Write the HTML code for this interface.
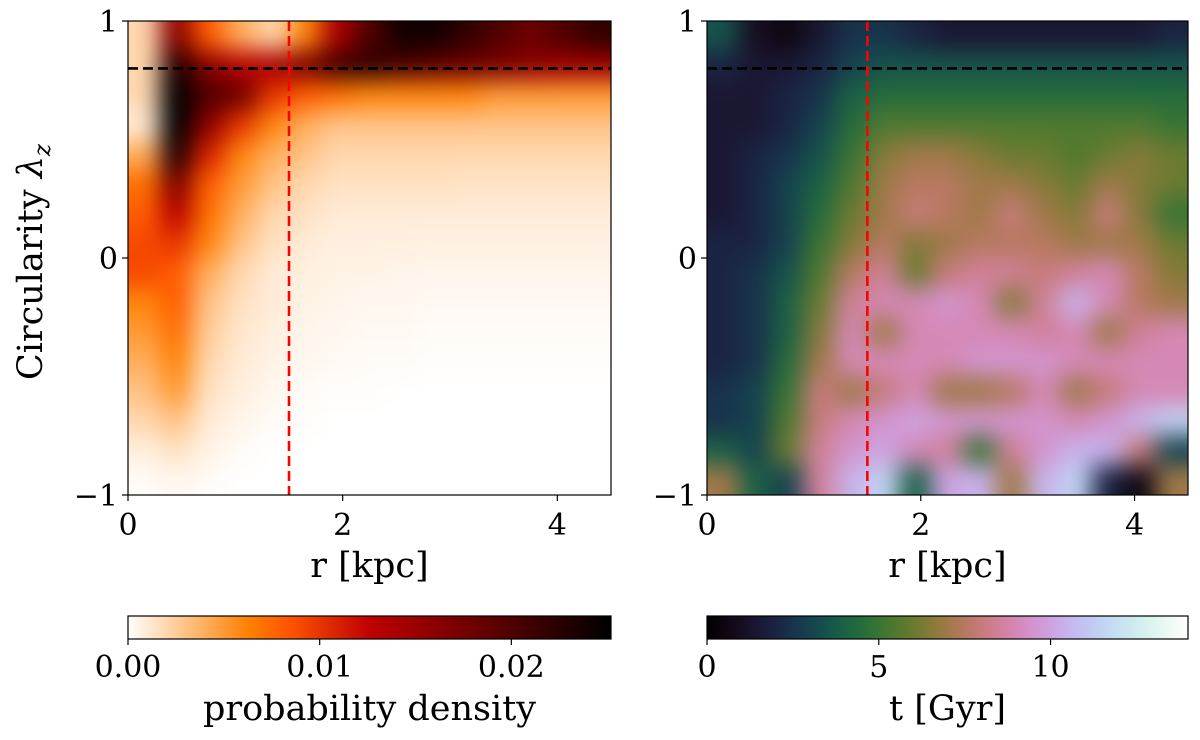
<!DOCTYPE html>
<html><head><meta charset="utf-8"><style>
body{margin:0;background:#fff;}
svg text{font-family:"DejaVu Serif","Liberation Serif",serif;fill:#000;}
</style></head><body>
<svg id="fig" width="1200" height="735" viewBox="0 0 1200 735" xmlns="http://www.w3.org/2000/svg">
<defs>
<filter id="blur" filterUnits="userSpaceOnUse" x="0" y="-100" width="1300" height="700" color-interpolation-filters="sRGB"><feGaussianBlur stdDeviation="12"/></filter>
<clipPath id="clipL"><rect x="128" y="21" width="483" height="474"/></clipPath>
<clipPath id="clipR"><rect x="707" y="21" width="481" height="474"/></clipPath>
<linearGradient id="gradL" x1="0" x2="1" y1="0" y2="0"></linearGradient>
<linearGradient id="gradR" x1="0" x2="1" y1="0" y2="0"></linearGradient>
</defs>
<g id="left-panel"></g>
<g id="right-panel"></g>
</svg>
<script>
// ---- data ----
const rCenters = [0.15,0.45,0.75,1.05,1.35,1.65,1.95,2.25,2.55,2.85,3.15,3.45,3.75,4.05,4.35];
const lamCenters = [0.9375,0.8125,0.6875,0.5625,0.4375,0.3125,0.1875,0.0625,-0.0625,-0.1875,-0.3125,-0.4375,-0.5625,-0.6875,-0.8125,-0.9375];
const densityGrid = [
[0.002,0.016,0.008,0.004,0.002,0.006,0.014,0.020,0.024,0.024,0.022,0.020,0.018,0.020,0.022],
[0.002,0.023,0.016,0.013,0.014,0.017,0.021,0.022,0.020,0.019,0.018,0.017,0.016,0.015,0.015],
[0.002,0.026,0.020,0.018,0.010,0.008,0.007,0.006,0.006,0.006,0.006,0.005,0.005,0.005,0.005],
[0.001,0.026,0.016,0.010,0.006,0.004,0.003,0.003,0.003,0.003,0.003,0.003,0.003,0.003,0.003],
[0.004,0.023,0.011,0.006,0.004,0.003,0.002,0.002,0.002,0.002,0.002,0.002,0.002,0.002,0.002],
[0.007,0.017,0.008,0.005,0.003,0.002,0.0015,0.0015,0.0015,0.0015,0.0014,0.0014,0.0014,0.0014,0.0014],
[0.008,0.013,0.007,0.004,0.002,0.0015,0.001,0.001,0.001,0.001,0.001,0.001,0.001,0.001,0.001],
[0.009,0.010,0.006,0.003,0.0015,0.001,0.0008,0.0008,0.0008,0.0007,0.0007,0.0007,0.0007,0.0007,0.0007],
[0.009,0.008,0.004,0.002,0.001,0.0008,0.0006,0.0006,0.0005,0.0005,0.0005,0.0005,0.0005,0.0005,0.0005],
[0.006,0.008,0.003,0.0015,0.001,0.0006,0.0005,0.0004,0.0004,0.0003,0.0003,0.0003,0.0003,0.0003,0.0003],
[0.005,0.007,0.0025,0.0012,0.0008,0.0005,0.0004,0.0003,0.0003,0.0002,0.0002,0.0002,0.0002,0.0002,0.0002],
[0.004,0.006,0.002,0.001,0.0006,0.0004,0.0003,0.0002,0.0002,0.0001,0.0001,0.0001,0.0001,0.0001,0.0001],
[0.003,0.005,0.0015,0.0008,0.0004,0.0002,0.0001,0.0001,0,0,0,0,0,0,0],
[0.002,0.003,0.001,0.0005,0.0002,0.0001,0,0,0,0,0,0,0,0,0],
[0.0008,0.0015,0.0006,0.0002,0,0,0,0,0,0,0,0,0,0,0],
[0.0002,0.0004,0.0002,0,0,0,0,0,0,0,0,0,0,0,0]
];
const ageGrid = [
[3.5,1,0.5,1.5,2.5,2.5,2,1.5,1.5,1.5,1.5,1.5,1.5,1.5,2],
[2,1.5,1.5,2,3,3.5,3.5,3.5,3.5,3.5,3.5,3.5,3.5,3.5,3.5],
[1.5,1.5,2,2.5,4,4.5,4.5,4.5,4.5,4.5,4.5,4.5,4.5,4.5,4.5],
[1.5,1.5,2,3,4.5,5.5,5.5,5.5,5.5,5.5,5.5,5.5,5.5,5.5,5],
[1.5,2,2.5,3.5,5,6.5,7,7,6.5,6,6,5.5,6,6.5,6],
[1.5,2,3,4,5.5,7,7.5,7.5,7,7,6.5,6,7,6.5,6],
[1.5,2,3,4.5,6,7,8,7.5,7,8,7,6.5,8,6.5,5],
[2,2,3,5,6.5,7.5,6.5,7,7.5,7.5,7.5,7,7,7,6],
[2,2.5,3.5,5.5,7.5,8.5,6,8,8.5,8.5,8,8.5,9,7.5,6.5],
[2,2.5,4,6,8.5,9,9,9.5,9,6.5,8.5,10.5,9,7.5,7],
[2,2.5,4,6.5,9,7,9,9,9,9,8.5,9,7,8.5,9],
[2,2.5,4.5,7,9,9,9,9,9.5,9.5,9.5,9,9,9,9],
[2.5,3,5,8,7,8,9,7,7,7.5,9,7,8,9,9],
[2.5,3,5.5,8,9,9.5,10,9.5,9.5,9.5,9.5,9,9.5,10.5,11.5],
[4,3,6,8.5,9.5,10,9,8.5,5,8.5,9.5,10.5,10.5,8,3],
[7,4,3,8.5,10.5,11.5,4,10,10.5,7,10.5,11.5,2,0.5,7]
];
const xTicks = [0,2,4];
const yTicks = [1,0,-1];
const yTickLabels = ["1","0","\u22121"];
const densTicks = [0,0.01,0.02];
const densTickLabels = ["0.00","0.01","0.02"];
const ageTicks = [0,5,10];
const ageTickLabels = ["0","5","10"];
const densMax = 0.0252, ageMax = 14;
const lamCut = 0.8, rCut = 1.5;

// ---- helpers ----
const NS="http://www.w3.org/2000/svg";
const TF=30, LF=35;
function mk(tag,attrs,parent){const e=document.createElementNS(NS,tag);for(const k in attrs)e.setAttribute(k,attrs[k]);parent.appendChild(e);return e;}
function heatColor(v){ // gist_heat_r
  let x=1-Math.max(0,Math.min(1,v));
  const r=Math.min(1,1.5*x),g=Math.max(0,Math.min(1,2*x-1)),b=Math.max(0,Math.min(1,4*x-3));
  return `rgb(${Math.round(r*255)},${Math.round(g*255)},${Math.round(b*255)})`;
}
function cubehelix(x){
  x=Math.max(0,Math.min(1,x));
  const phi=2*Math.PI*(0.5/3+(-1.5)*x), a=x*(1-x)/2;
  const c=Math.cos(phi),s=Math.sin(phi);
  const r=x+a*(-0.14861*c+1.78277*s), g=x+a*(-0.29227*c-0.90649*s), b=x+a*(1.97294*c);
  const f=t=>Math.round(Math.max(0,Math.min(1,t))*255);
  return `rgb(${f(r)},${f(g)},${f(b)})`;
}
const fig=document.getElementById('fig');

function panel(gid,x0,w,grid,cmap,vmax,clip,showY,nm){
  const top=21,h=474;
  const X=r=>x0+r/4.5*w, Y=l=>top+(1-l)/2*h;
  const g=document.getElementById(gid);
  const cg=mk('g',{'clip-path':`url(#${clip})`},g);
  
  
  const bg=mk('g',{filter:'url(#blur)'},cg);
  const dx=0.3, dy=0.125;
  grid.forEach((row,i)=>row.forEach((v,j)=>{
    let xa=X(rCenters[j]-dx/2), xb=X(rCenters[j]+dx/2);
    let ya=Y(lamCenters[i]+dy/2), yb=Y(lamCenters[i]-dy/2);
    if(j===0)xa-=45; if(j===row.length-1)xb+=45;
    if(i===0)ya-=45; if(i===grid.length-1)yb+=45;
    const rc=mk('rect',{x:xa,y:ya,width:xb-xa+0.8,height:yb-ya+0.8,fill:cmap(v/vmax)},bg);
    
    
  }));
  const hl=mk('line',{x1:x0,x2:x0+w,y1:Y(lamCut),y2:Y(lamCut),stroke:'#000','stroke-width':2.6,'stroke-dasharray':'10,5'},g);
  
  
  const vl=mk('line',{x1:X(rCut),x2:X(rCut),y1:top,y2:top+h,stroke:'#f00','stroke-width':2.6,'stroke-dasharray':'10,5'},g);
  
  
  const fr=mk('rect',{x:x0,y:top,width:w,height:h,fill:'none',stroke:'#000','stroke-width':1.2},g);
  
  
  xTicks.forEach(t=>{
    mk('line',{x1:X(t),x2:X(t),y1:top+h,y2:top+h+6,stroke:'#000','stroke-width':1.2},g);
    const tx=mk('text',{x:X(t),y:535,'font-size':TF,'text-anchor':'middle'},g);tx.textContent=t;
    
    
  });
  yTicks.forEach((t,k)=>{
    mk('line',{x1:x0-6,x2:x0,y1:Y(t),y2:Y(t),stroke:'#000','stroke-width':1.2},g);
    const tx=mk('text',{x:x0-10,y:Y(t)+11,'font-size':TF,'text-anchor':'end'},g);tx.textContent=yTickLabels[k];
    
    
  });
  const xl=mk('text',{x:x0+w/2,y:577,'font-size':LF,'text-anchor':'middle'},g);xl.textContent='r [kpc]';
  
  
  if(showY){
    const yl=mk('text',{x:0,y:0,'font-size':LF,'text-anchor':'middle',transform:`translate(42,262) rotate(-90)`},g);
    yl.innerHTML='Circularity <tspan font-style="italic">λ</tspan><tspan font-style="italic" font-size="23" dy="8">z</tspan>';
    
    
  }
}
panel('left-panel',128,483,densityGrid,heatColor,densMax,'clipL',true,'density');
panel('right-panel',707,481,ageGrid,cubehelix,ageMax,'clipR',false,'age');

function colorbar(gid,x0,w,cmap,vmax,ticks,labels,title,nm){
  const grad=document.getElementById(gid);
  for(let i=0;i<=40;i++){mk('stop',{offset:(i/40),'stop-color':cmap(i/40)},grad);}
  const g=mk('g',{},fig);
  
  
  mk('rect',{x:x0,y:616,width:w,height:23,fill:`url(#${gid})`,stroke:'#000','stroke-width':1.2},g);
  ticks.forEach((t,k)=>{
    const x=x0+t/vmax*w;
    mk('line',{x1:x,x2:x,y1:639,y2:645,stroke:'#000','stroke-width':1.2},g);
    const tx=mk('text',{x:x,y:677,'font-size':TF,'text-anchor':'middle'},g);tx.textContent=labels[k];
    
    
  });
  const tl=mk('text',{x:x0+w/2,y:720,'font-size':LF,'text-anchor':'middle'},g);tl.textContent=title;
  
  
}
colorbar('gradL',128,483,heatColor,densMax,densTicks,densTickLabels,'probability density','density-colorbar');
colorbar('gradR',707,481,cubehelix,ageMax,ageTicks,ageTickLabels,'t [Gyr]','age-colorbar');
</script>
</body></html>
